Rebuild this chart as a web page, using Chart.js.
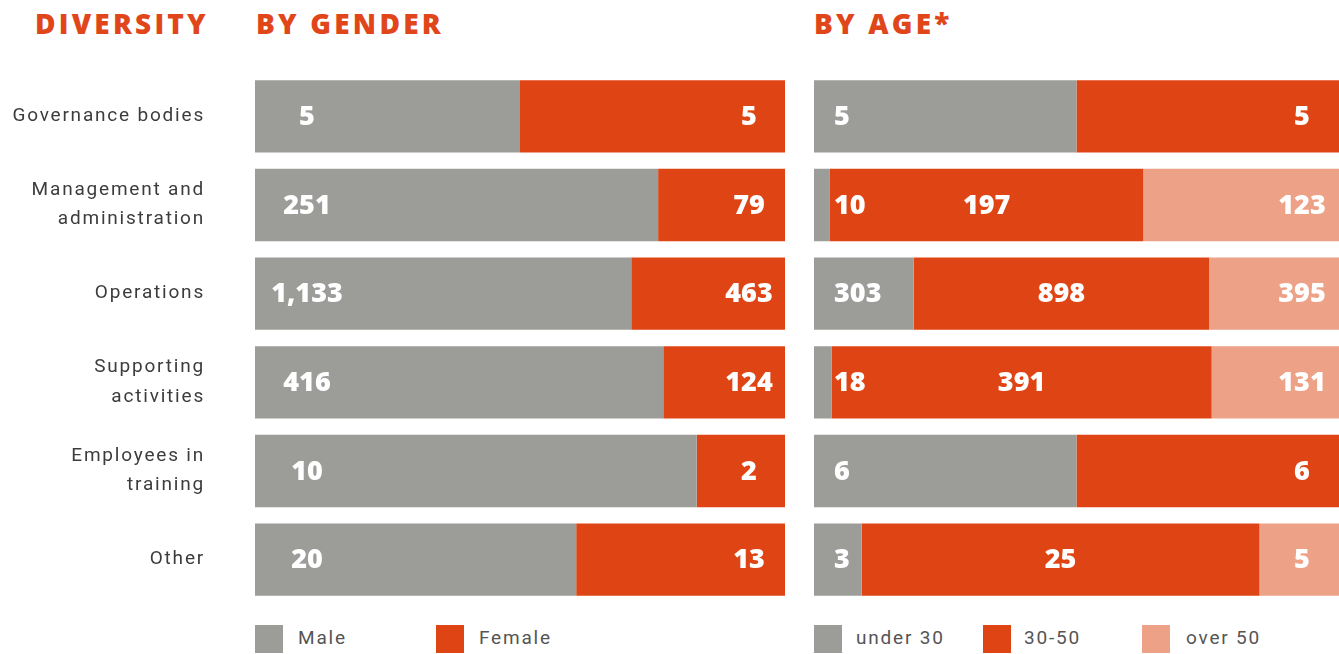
<!DOCTYPE html>
<html lang="en">

<head>
    <meta http-equiv="Content-Type" content="text/html;charset=UTF-8">
    <title>Diversity</title>
    <script src="https://cdn.jsdelivr.net/npm/chart.js@4.4.0/dist/chart.umd.min.js"></script>
    <style>
        body { margin: 0; background: #fff; width: 1339px; height: 654px; overflow: hidden; position: relative; }
        .title { position: absolute; top: 4px; font-family: 'Open Sans', sans-serif; font-weight: 800; font-size: 28px; letter-spacing: 3.2px; color: #e0461a; }
        .box { position: absolute; top: 625px; width: 28px; height: 28px; }
        .leg { position: absolute; top: 626px; font-family: 'Roboto', sans-serif; font-size: 19px; letter-spacing: 1.8px; color: #555; }
        canvas { position: absolute; }
    </style>
</head>

<body>
    <div class="title" style="left: 35px;">DIVERSITY</div>
    <div class="title" style="left: 256px;">BY GENDER</div>
    <div class="title" style="left: 814px;">BY AGE*</div>

    <canvas id="gender" width="785" height="532" style="left: 0; top: 72px;"></canvas>
    <canvas id="age" width="525" height="532" style="left: 814px; top: 72px;"></canvas>

    <div class="box" style="left: 255px; background: #9c9c99;"></div>
    <div class="leg" style="left: 298px;">Male</div>
    <div class="box" style="left: 436px; background: #df4514;"></div>
    <div class="leg" style="left: 479px;">Female</div>

    <div class="box" style="left: 814px; background: #9c9c99;"></div>
    <div class="leg" style="left: 856px;">under 30</div>
    <div class="box" style="left: 983px; background: #df4514;"></div>
    <div class="leg" style="left: 1024px;">30-50</div>
    <div class="box" style="left: 1142px; background: #eda186;"></div>
    <div class="leg" style="left: 1186px;">over 50</div>

    <script>
        var categories = [
            'Governance bodies',
            ['Management and', 'administration'],
            'Operations',
            ['Supporting', 'activities'],
            ['Employees in', 'training'],
            'Other'
        ];

        // headcount by gender
        var male = [5, 251, 1133, 416, 10, 20];
        var female = [5, 79, 463, 124, 2, 13];

        // headcount by age group
        var under30 = [5, 10, 303, 18, 6, 3];
        var age30to50 = [5, 197, 898, 391, 6, 25];
        var over50 = [0, 123, 395, 131, 0, 5];

        var GREY = '#9c9c99';
        var RED = '#df4514';
        var SALMON = '#eda186';

        // turn raw counts into shares of each row so every bar fills the width
        function shares(groups) {
            return groups.map(function (g) {
                return g.map(function (v, i) {
                    var total = 0;
                    groups.forEach(function (o) { total += o[i]; });
                    return v / total * 100;
                });
            });
        }

        // spaced-out lettering for the axis labels
        var spacedText = {
            id: 'spacedText',
            beforeDraw: function (chart) { chart.ctx.letterSpacing = '1.8px'; }
        };

        // white count labels: first segment near the start, last near the end, others centered
        var countLabels = {
            id: 'countLabels',
            afterDatasetsDraw: function (chart, args, opts) {
                var ctx = chart.ctx;
                var sets = chart.data.datasets;
                ctx.save();
                ctx.letterSpacing = '0px';
                ctx.fillStyle = '#fff';
                ctx.font = '800 27px "Open Sans", sans-serif';
                ctx.textBaseline = 'middle';
                for (var i = 0; i < chart.data.labels.length; i++) {
                    var used = [];
                    sets.forEach(function (ds, d) { if (ds.counts[i] > 0) used.push(d); });
                    used.forEach(function (d, k) {
                        var bar = chart.getDatasetMeta(d).data[i];
                        var txt = sets[d].counts[i].toLocaleString('en-US');
                        var x;
                        if (k === 0) {
                            ctx.textAlign = opts.startAlign;
                            x = bar.base + opts.startPad;
                        } else if (k === used.length - 1) {
                            ctx.textAlign = 'center';
                            x = bar.x - opts.endPad;
                        } else {
                            ctx.textAlign = 'center';
                            x = (bar.base + bar.x) / 2;
                        }
                        ctx.fillText(txt, x, bar.y + 1);
                    });
                }
                ctx.restore();
            }
        };

        function makeChart(id, groups, names, colors, showAxis, labelOpts) {
            var pct = shares(groups);
            return new Chart(document.getElementById(id), {
                type: 'bar',
                data: {
                    labels: categories,
                    datasets: groups.map(function (g, d) {
                        return {
                            label: names[d],
                            data: pct[d],
                            counts: g,
                            backgroundColor: colors[d],
                            borderWidth: 0,
                            categoryPercentage: 1,
                            barPercentage: 0.815
                        };
                    })
                },
                options: {
                    indexAxis: 'y',
                    responsive: false,
                    animation: false,
                    layout: { padding: 0 },
                    scales: {
                        x: { stacked: true, min: 0, max: 100, display: false },
                        y: {
                            stacked: true,
                            display: showAxis,
                            border: { display: false },
                            grid: { display: false, drawTicks: false },
                            ticks: {
                                padding: 50,
                                color: '#3c3c3c',
                                font: { family: 'Roboto', size: 19, lineHeight: 1.55 }
                            },
                            afterFit: function (scale) {
                                if (!showAxis) return;
                                scale.width = 255;
                                // keep the bars spanning the full height
                                scale.paddingTop = 0;
                                scale.paddingBottom = 0;
                            }
                        }
                    },
                    plugins: {
                        legend: { display: false },
                        tooltip: { enabled: false },
                        countLabels: labelOpts
                    }
                },
                plugins: [spacedText, countLabels]
            });
        }

        makeChart('gender', [male, female], ['Male', 'Female'], [GREY, RED], true,
            { startAlign: 'center', startPad: 52, endPad: 36 });
        makeChart('age', [under30, age30to50, over50], ['under 30', '30-50', 'over 50'], [GREY, RED, SALMON], false,
            { startAlign: 'left', startPad: 20, endPad: 37 });
    </script>
</body>

</html>
